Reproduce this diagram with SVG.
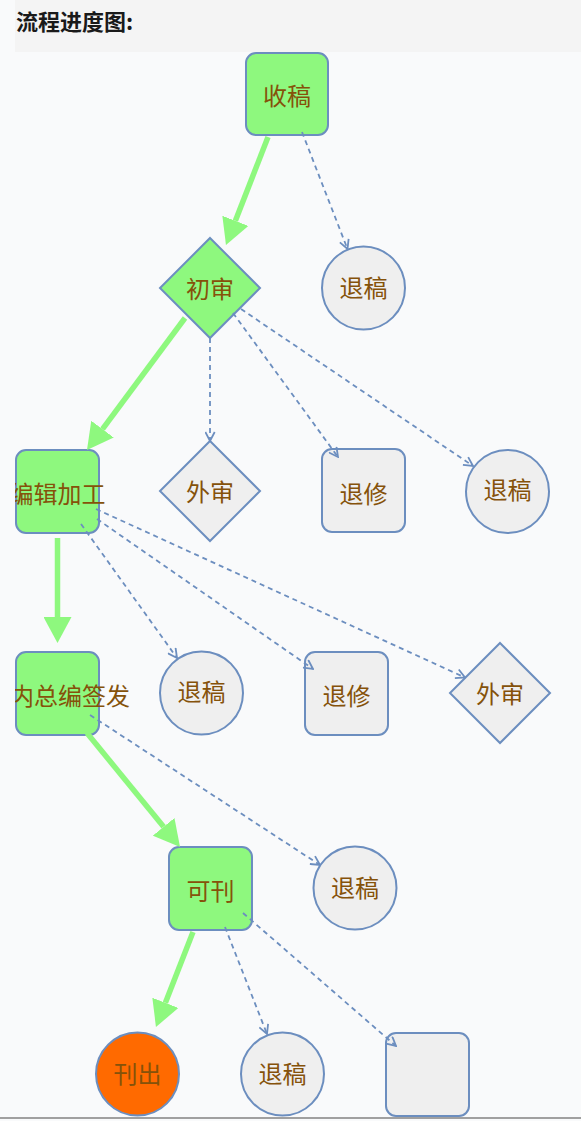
<svg xmlns="http://www.w3.org/2000/svg" width="581" height="1121" viewBox="0 0 581 1121">
<defs>
<style>
.g{fill:#8ef87e;stroke:#6c8ebf;stroke-width:2}
.n{fill:#efefef;stroke:#6c8ebf;stroke-width:2}
.o{fill:#ff6a00;stroke:#6c8ebf;stroke-width:2}
.t{font-family:"Noto Sans CJK SC","Noto Sans",sans-serif;font-size:24px;fill:#85520a;text-anchor:middle;dominant-baseline:central}
.main{fill:none;stroke:#8ef87e;stroke-width:5.5;marker-end:url(#ga)}
.dash{fill:none;stroke:#6c8ebf;stroke-width:1.8;stroke-dasharray:5 4;marker-end:url(#da)}
</style>
<marker id="ga" viewBox="0 0 26 28" markerWidth="26" markerHeight="28" markerUnits="userSpaceOnUse" refX="0" refY="14" orient="auto">
<path d="M0,0 L26,14 L0,28 z" fill="#8ef87e"/>
</marker>
<marker id="da" viewBox="0 0 11 11" markerWidth="11" markerHeight="11" markerUnits="userSpaceOnUse" refX="10" refY="5.5" orient="auto">
<path d="M1,0.8 L10,5.5 L1,10.2" fill="none" stroke="#6c8ebf" stroke-width="1.8"/>
</marker>
<clipPath id="clip"><rect x="15" y="0" width="566" height="1121"/></clipPath>
</defs>
<rect x="0" y="0" width="581" height="1121" fill="#f9fafb"/>
<rect x="15" y="0" width="566" height="52" fill="#f4f4f4"/>
<text x="16" y="30" font-family="&quot;Noto Sans CJK SC&quot;,sans-serif" font-size="22" font-weight="bold" fill="#1a1a1a">流程进度图:</text>
<line x1="0" y1="1118" x2="581" y2="1118" stroke="#a0a0a0" stroke-width="2"/>
<g clip-path="url(#clip)">
<g id="n-shougao"><rect class="g" x="246" y="53" width="82" height="82" rx="10"/><text class="t" x="287" y="94">收稿</text></g>
<g id="n-tuigao1"><circle class="n" cx="363.5" cy="288" r="41.5"/><text class="t" x="363.5" y="286">退稿</text></g>
<g id="n-chushen"><polygon class="g" points="210,238 260,288 210,338 160,288"/><text class="t" x="210" y="287">初审</text></g>
<g id="n-bianji"><rect class="g" x="16" y="450" width="83" height="83" rx="10"/><text class="t" x="57.5" y="492">编辑加工</text></g>
<g id="n-waishen1"><polygon class="n" points="210,441 260,491 210,541 160,491"/><text class="t" x="210" y="490">外审</text></g>
<g id="n-tuixiu1"><rect class="n" x="322" y="449" width="83" height="83" rx="10"/><text class="t" x="363.5" y="492">退修</text></g>
<g id="n-tuigao2"><circle class="n" cx="507.5" cy="491.5" r="41.5"/><text class="t" x="507.5" y="488.5">退稿</text></g>
<g id="n-neizong"><rect class="g" x="16" y="652" width="83" height="83" rx="10"/><text class="t" x="70" y="694">内总编签发</text></g>
<g id="n-tuigao3"><circle class="n" cx="201.5" cy="693" r="41.5"/><text class="t" x="201.5" y="690.5">退稿</text></g>
<g id="n-tuixiu2"><rect class="n" x="305" y="652" width="83" height="83" rx="10"/><text class="t" x="346.5" y="694.5">退修</text></g>
<g id="n-waishen2"><polygon class="n" points="500,643 550,693 500,743 450,693"/><text class="t" x="500" y="692">外审</text></g>
<g id="n-kekan"><rect class="g" x="169" y="847" width="83" height="83" rx="10"/><text class="t" x="210.5" y="889">可刊</text></g>
<g id="n-tuigao4"><circle class="n" cx="355" cy="888" r="41.5"/><text class="t" x="355" y="886">退稿</text></g>
<g id="n-kanchu"><circle class="o" cx="137.5" cy="1074" r="41.5"/><text class="t" x="137.5" y="1072">刊出</text></g>
<g id="n-tuigao5"><circle class="n" cx="282.5" cy="1074" r="41.5"/><text class="t" x="282.5" y="1072">退稿</text></g>
<g id="n-empty"><rect class="n" x="386" y="1033" width="83" height="83" rx="10"/></g>
<g id="connectors">
<path class="main" d="M268,137 L235.4,220.8"/>
<path class="main" d="M185,318 L102.5,429.1"/>
<path class="main" d="M57.5,538 L57.5,617"/>
<path class="main" d="M87,733 L163.6,826.8"/>
<path class="main" d="M193,932 L165.4,1002.8"/>
<path class="dash" d="M302,132 L347.5,249"/>
<path class="dash" d="M210,338 L210,441"/>
<path class="dash" d="M233,313 L338,457"/>
<path class="dash" d="M241,309 L473,466"/>
<path class="dash" d="M81,524 L177,658"/>
<path class="dash" d="M97,519 L313,669"/>
<path class="dash" d="M96,509 L465,677.5"/>
<path class="dash" d="M90,715 L320,865"/>
<path class="dash" d="M225,927 L267,1034"/>
<path class="dash" d="M243,913 L396,1046"/>
</g>
</g>
</svg>
